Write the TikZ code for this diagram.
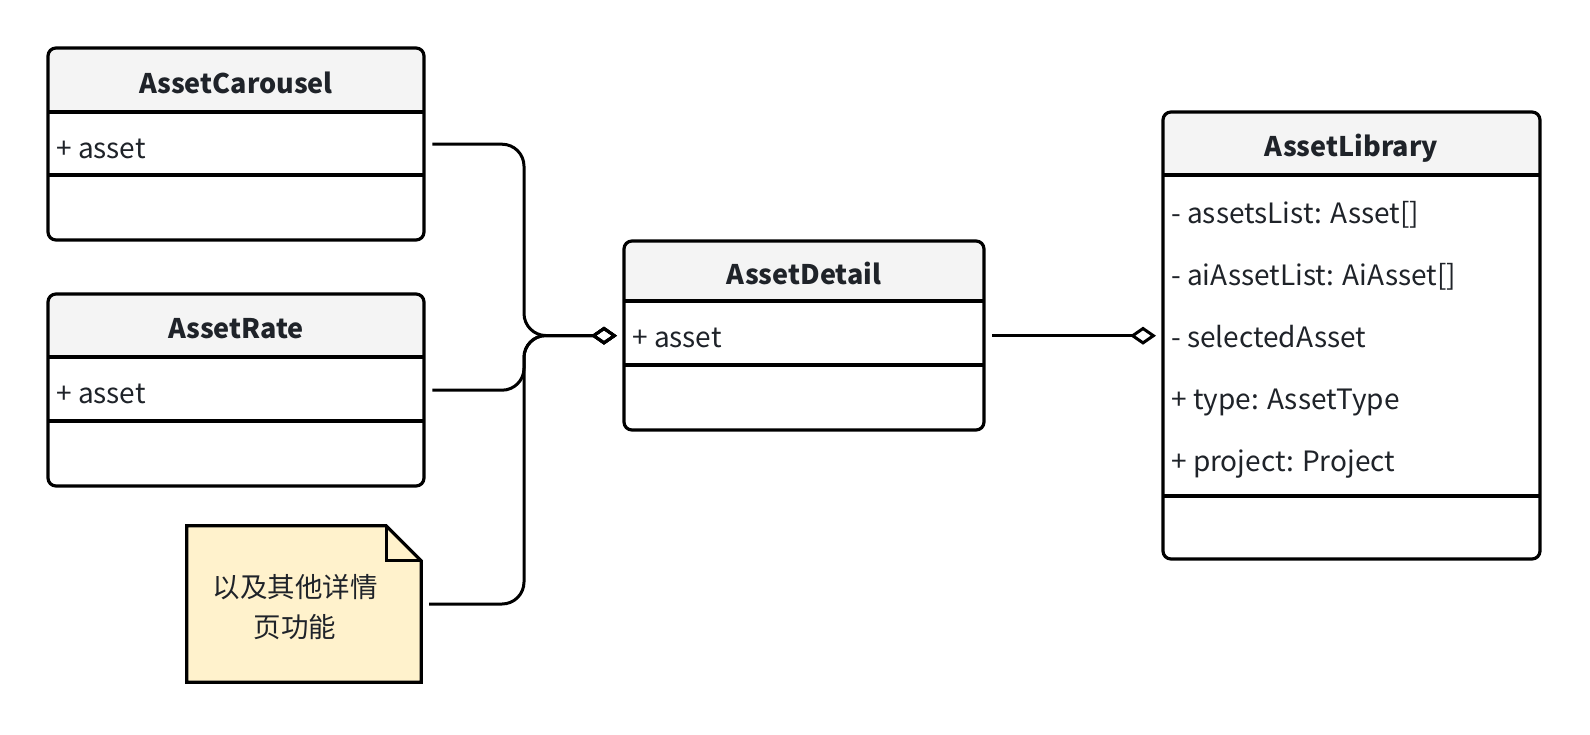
\documentclass[tikz,border=0pt]{standalone}
\usepackage{fontspec}
\setmainfont{Noto Sans CJK SC}
\usetikzlibrary{arrows.meta,calc}
\definecolor{headfill}{HTML}{F4F4F4}
\definecolor{notefill}{HTML}{FFF2CC}
\definecolor{txt}{HTML}{1F2329}
\tikzset{
  boxline/.style={line width=3.2pt, draw=black},
  conn/.style={line width=3pt, draw=black, rounded corners=22pt, -{Diamond[open,length=26pt,width=18pt]}},
  title/.style={font=\fontsize{27pt}{32pt}\selectfont\bfseries, text=txt, inner sep=0pt, anchor=base},
  attr/.style={font=\fontsize{28pt}{32pt}\selectfont, text=txt, inner sep=0pt, anchor=base west},
  notetext/.style={font=\fontsize{27.5pt}{40pt}\selectfont, text=txt, align=center, inner sep=0pt},
}
% \umlbox{name}{x1}{y1}{x2}{y2}{header bottom}{attr bottom}
\newcommand{\umlbox}[7]{%
  \node[inner sep=0pt, minimum width={(#4-#2)*1pt}, minimum height={(#5-#3)*1pt}, anchor=north west] (#1) at (#2,#3) {};
  \fill[white, rounded corners=8pt] (#2,#3) rectangle (#4,#5);
  \begin{scope}
    \clip[rounded corners=8pt] (#2,#3) rectangle (#4,#5);
    \fill[headfill] (#2,#3) rectangle (#4,#6);
  \end{scope}
  \draw[boxline] (#2,#6) -- (#4,#6);
  \draw[boxline] (#2,#7) -- (#4,#7);
  \draw[boxline, rounded corners=8pt] (#2,#3) rectangle (#4,#5);
}
\begin{document}
\begin{tikzpicture}[x=1pt,y=-1pt]
\useasboundingbox (0,0) rectangle (1590,734);

% AssetCarousel
\umlbox{car}{48}{48}{424}{240}{112}{175}
\node[title] at (236,93) {AssetCarousel};
\node[attr] at (56,158) {+ asset};

% AssetRate
\umlbox{rate}{48}{294}{424}{486}{357}{421}
\node[title] at (236,338.5) {AssetRate};
\node[attr] at (56,403) {+ asset};

% AssetDetail
\umlbox{det}{624}{241}{984}{430}{301}{365}
\node[title] at (804,284) {AssetDetail};
\node[attr] at (632,347) {+ asset};

% AssetLibrary
\umlbox{lib}{1163}{112}{1540}{559}{175}{496}
\node[title] at (1351.5,156.5) {AssetLibrary};
\node[attr] at (1171,223) {- assetsList: Asset[]};
\node[attr] at (1171,285) {- aiAssetList: AiAsset[]};
\node[attr] at (1171,347) {- selectedAsset};
\node[attr] at (1171,409) {+ type: AssetType};
\node[attr] at (1171,471) {+ project: Project};

% Note
\node[inner sep=0pt, minimum width=234pt, minimum height=156pt] (note) at (304,604) {};
\filldraw[fill=notefill, boxline, line join=miter]
  (note.north west) -- ([xshift=-35pt]note.north east) -- ([yshift=-35pt]note.north east)
  -- (note.south east) -- (note.south west) -- cycle;
\draw[boxline, line join=miter] ([xshift=-35pt]note.north east) -- ([xshift=-35pt,yshift=-35pt]note.north east) -- ([yshift=-35pt]note.north east);
\node[notetext] (notet) at (295,607) {以及其他详情\\页功能};

% Connectors
\coordinate (j) at (524,335.5);
\draw[conn] ([xshift=8pt]car.east) -| (j) -- ([xshift=-7pt]det.west);
\draw[conn] ([xshift=8pt]rate.east) -| (j) -- ([xshift=-7pt]det.west);
\draw[conn] ([xshift=8pt]note.east) -| (j) -- ([xshift=-7pt]det.west);
\draw[conn, rounded corners=0pt] ([xshift=8pt]det.east) -- ([xshift=-7pt]lib.west);
\end{tikzpicture}
\end{document}
